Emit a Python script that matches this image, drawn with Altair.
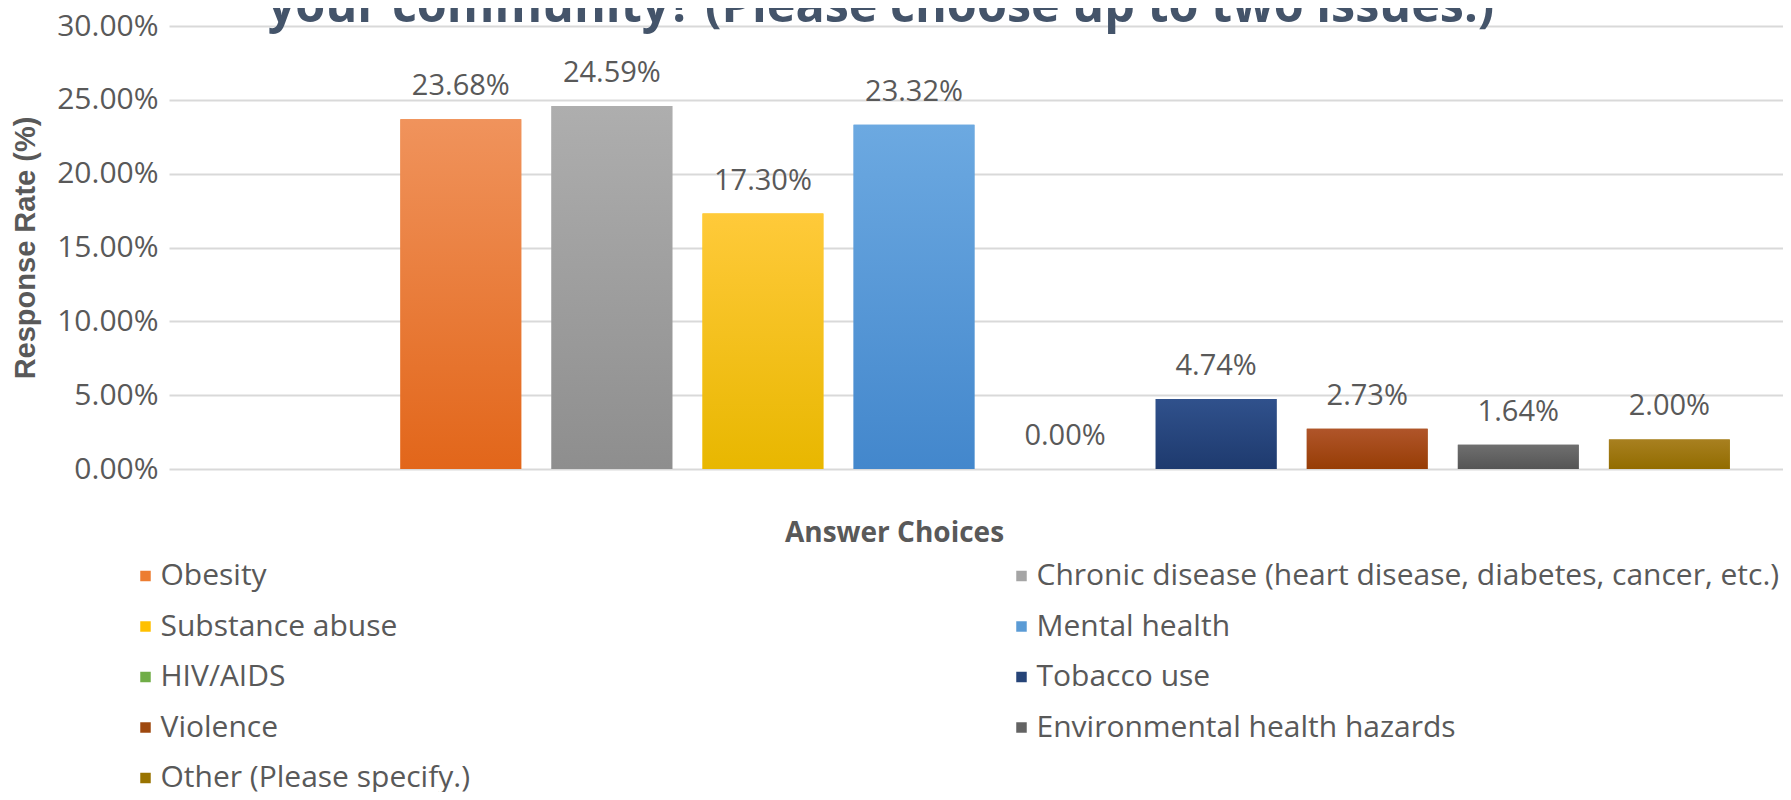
import altair as alt
import pandas as pd

categories = [
    "Obesity",
    "Chronic disease (heart disease, diabetes, cancer, etc.)",
    "Substance abuse",
    "Mental health",
    "HIV/AIDS",
    "Tobacco use",
    "Violence",
    "Environmental health hazards",
    "Other (Please specify.)",
]
values_pct = [23.68, 24.59, 17.30, 23.32, 0.00, 4.74, 2.73, 1.64, 2.00]

solid_colors = ["#ED7D31", "#A5A5A5", "#FFC000", "#5B9BD5", "#70AD47",
                "#264478", "#9E480E", "#636363", "#997300"]
grad_top = ["#F0935C", "#AEAEAE", "#FFCA3A", "#6CA9E1", "#7DB857",
            "#30518C", "#B0552A", "#6F6F6F", "#A88020"]
grad_bottom = ["#E2661A", "#8E8E8E", "#E8B700", "#4387CC", "#5F9A38",
               "#1E3A6E", "#973D05", "#555555", "#926C00"]

title_text = "your community? (Please choose up to two issues.)"

df = pd.DataFrame({"cat": categories, "frac": [v / 100 for v in values_pct]})

W, H = 1614, 443
TXT = "#595959"

x_enc = alt.X(
    "cat:N",
    sort=categories,
    scale=alt.Scale(domain=categories, paddingInner=0.2, paddingOuter=0.942, align=0.813),
    axis=alt.Axis(labels=False, ticks=False, domain=False, grid=False,
                  title="Answer Choices", titleFont="Open Sans", titleFontSize=28,
                  titleFontWeight="bold", titleColor=TXT, titlePadding=50, titleX=725),
)
y_enc = alt.Y(
    "frac:Q",
    scale=alt.Scale(domain=[0, 0.30], nice=False),
    axis=alt.Axis(values=[0, 0.05, 0.10, 0.15, 0.20, 0.25, 0.30], format=".2%",
                  labelFont="Open Sans", labelFontSize=30, labelColor=TXT, labelPadding=11,
                  ticks=False, domain=False, gridColor="#D9D9D9", gridWidth=2,
                  title="Response Rate (%)", titleFont="Liberation Sans", titleFontSize=29,
                  titleFontWeight="bold", titleColor=TXT, titleAngle=270,
                  titleX=-144, titleY=H / 2, titleAlign="center", titleBaseline="middle"),
)

base = alt.Chart(df)

bars = base.mark_bar().encode(
    x=x_enc,
    y=y_enc,
    color=alt.Color(
        "cat:N",
        sort=categories,
        scale=alt.Scale(domain=categories, range=solid_colors),
        legend=alt.Legend(
            orient="none", legendX=-38.5, legendY=535, columns=2, columnPadding=536,
            rowPadding=20.5, direction="horizontal", padding=0,
            symbolType="square", symbolSize=110, symbolStrokeWidth=0,
            labelFont="Open Sans", labelFontSize=30, labelColor=TXT, labelOffset=0,
            labelLimit=1000, title=None, gridAlign="each",
        ),
    ),
)

layers = [bars]
for c, t, b in zip(categories, grad_top, grad_bottom):
    layers.append(
        base.transform_filter(alt.datum.cat == c)
        .mark_bar(
            color=alt.Gradient(
                gradient="linear",
                stops=[alt.GradientStop(color=t, offset=0), alt.GradientStop(color=b, offset=1)],
                x1=0, x2=0, y1=0, y2=1,
            )
        )
        .encode(x=x_enc, y=y_enc)
    )

labels = base.mark_text(
    font="Open Sans", fontSize=29, color=TXT, baseline="alphabetic", dy=-24
).encode(x=x_enc, y=y_enc, text=alt.Text("frac:Q", format=".2%"))
layers.append(labels)

title = alt.Chart(pd.DataFrame({"t": [title_text]})).mark_text(
    font="Open Sans", fontSize=48.5, fontWeight="bold", color="#44546A",
    align="center", baseline="alphabetic",
).encode(text="t:N", x=alt.value(712), y=alt.value(-4))
layers.append(title)

chart = (
    alt.layer(*layers)
    .properties(
        width=W, height=H,
        autosize=alt.AutoSizeParams(type="none"),
        padding={"left": 161, "top": 18, "right": 0, "bottom": 323},
        background="white",
    )
    .configure_view(stroke=None)
)

chart.save("out.html", embed_options={"renderer": "svg", "actions": False})
